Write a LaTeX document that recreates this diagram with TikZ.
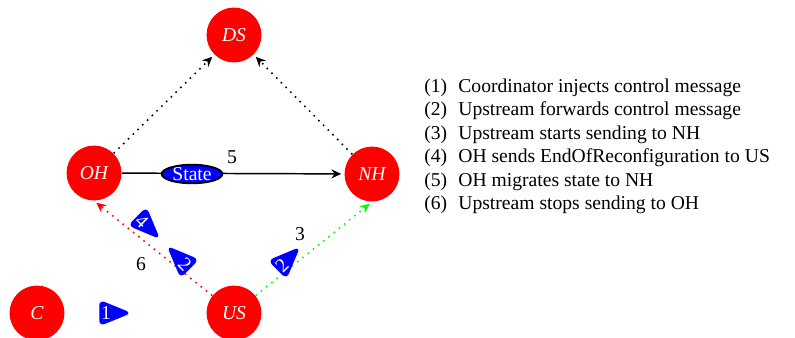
\documentclass[tikz,border=0pt]{standalone}
\usepackage{fontspec}
\setmainfont{Liberation Serif}
\usetikzlibrary{arrows.meta,shapes.geometric}
\tikzset{
  proc/.style={circle,fill=red,text=white,inner sep=0pt,minimum size=28pt,font=\itshape},
  msg/.style={isosceles triangle,isosceles triangle stretches,fill=blue,text=white,
    inner sep=0pt,minimum width=13.5pt,minimum height=16.5pt,rounded corners=3pt},
  arr/.style={-{Stealth[length=5pt,width=4.6pt]},shorten >=1.5pt},
  dots/.style={line width=0.8pt,dash pattern=on 0.8pt off 2.6pt},
  lbl/.style={inner sep=0pt},
  leg/.style={anchor=base west,inner sep=0pt}
}
\begin{document}
\begin{tikzpicture}[x=0.51pt,y=-0.51pt]
\useasboundingbox (0,0) rectangle (795,337);
\node[proc] (DS) at (234,35) {DS};
\node[proc] (OH) at (94,173) {OH};
\node[proc] (NH) at (372,174) {NH};
\node[proc] (US) at (234,313) {US};
\node[proc] (C) at (37,313) {C};

\draw[arr,dots] (OH.north east) -- (DS.south west);
\draw[arr,dots] (NH.north west) -- (DS.south east);
\draw[arr,line width=0.75pt] (OH) -- (NH);
\node[ellipse,draw=black,line width=0.9pt,fill=blue,text=white,inner sep=0pt,
  minimum width=31pt,minimum height=9.5pt] (state) at (192,174) {State};
\draw[arr,dots,red] (US) -- (OH.south);
\draw[arr,dots,green] (US) -- (NH.south);

\node[lbl] (l5) at (232,157.5) {5};
\node[lbl] (l3) at (300,234) {3};
\node[lbl] (l6) at (141,264) {6};

\node[msg] (m1) at (106,313) {1};
\node[msg,rotate=-45] (m4) at (142,221) {4};
\node[msg,rotate=-45,shape border rotate=180] (m2a) at (185,264) {2};
\node[msg,rotate=45] (m2b) at (282,265) {2};

\foreach \i/\t [count=\k] in {1/Coordinator injects control message,
  2/Upstream forwards control message,
  3/Upstream starts sending to NH,
  4/OH sends EndOfReconfiguration to US,
  5/OH migrates state to NH,
  6/Upstream stops sending to OH}{
  \node[leg] (n\i) at (424,{92+23.5*(\k-1)}) {(\i)};
  \node[leg] (t\i) at (458,{92+23.5*(\k-1)}) {\t};
}
\end{tikzpicture}
\end{document}
